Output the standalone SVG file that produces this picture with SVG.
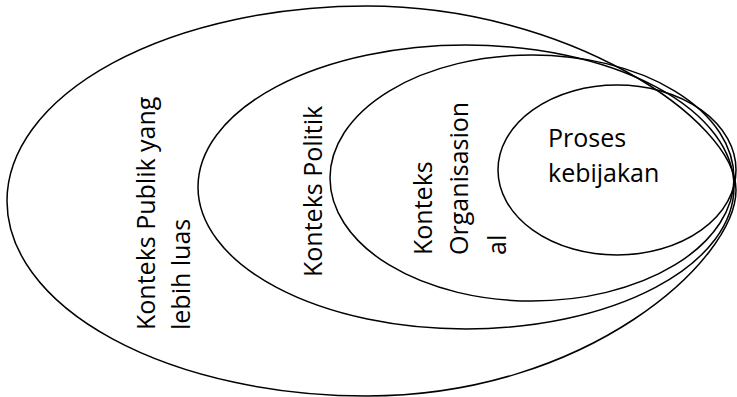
<svg xmlns="http://www.w3.org/2000/svg" width="737" height="397" viewBox="0 0 737 397">
  <style>
    .ring { fill: none; stroke: #000; stroke-width: 1.5; }
    .label { font-family: "Open Sans", "Liberation Sans", sans-serif; font-size: 25px; fill: #000; }
  </style>
  <rect width="737" height="397" fill="#fff"/>
  <!-- outermost ring: rounded on the left, tapering towards the shared right tip -->
  <g id="publik">
    <path class="ring" d="M367,396 A360,195 0 0 1 7,201 A360,195 0 0 1 367,6 C567,6 736,120 736,190 C736,260 587,396 367,396 Z"/>
    <text class="label" transform="translate(155,330) rotate(-90)">
      <tspan x="0" y="0">Konteks Publik yang</tspan>
      <tspan x="0" y="35">lebih luas</tspan>
    </text>
  </g>
  <g id="politik">
    <ellipse class="ring" cx="466" cy="187" rx="268" ry="142"/>
    <text class="label" transform="translate(322,277) rotate(-90)">Konteks Politik</text>
  </g>
  <g id="organisasional">
    <ellipse class="ring" cx="532" cy="178" rx="202" ry="123"/>
    <text class="label" transform="translate(432,255) rotate(-90)">
      <tspan x="0" y="0">Konteks</tspan>
      <tspan x="0" y="36">Organisasion</tspan>
      <tspan x="0" y="74">al</tspan>
    </text>
  </g>
  <g id="proses">
    <ellipse class="ring" cx="617" cy="170" rx="119" ry="85"/>
    <text class="label">
      <tspan x="548" y="147">Proses</tspan>
      <tspan x="548" y="182">kebijakan</tspan>
    </text>
  </g>
  <g id="connectors"/>
</svg>
